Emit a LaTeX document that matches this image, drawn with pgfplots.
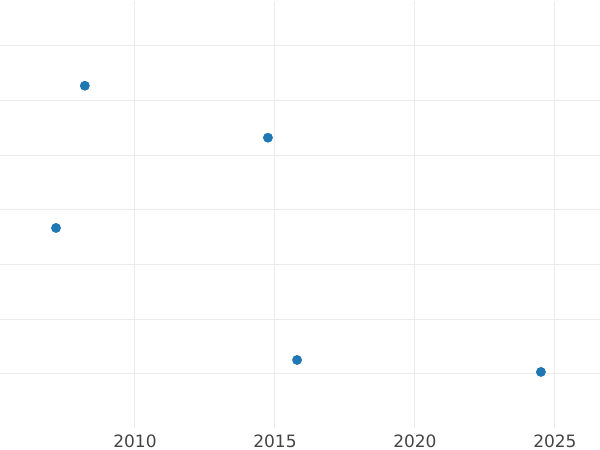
\documentclass[border=0pt]{standalone}
\usepackage{pgfplots}
\pgfplotsset{compat=1.18}
\usepackage{fontspec}
\setmainfont{DejaVu Sans}
\definecolor{pblue}{HTML}{1F77B4}
\definecolor{gridc}{HTML}{EBEBEB}
\definecolor{tickc}{HTML}{444444}
\begin{document}
\begin{tikzpicture}
\begin{axis}[
  scale only axis,
  width=300pt, height=213.5pt,
  xmin=2005.18, xmax=2026.61,
  ymin=-0.988, ymax=6.82,
  xtick={2010,2015,2020,2025},
  ytick={0,1,2,3,4,5,6},
  yticklabels={},
  grid=major,
  major grid style={draw=gridc, line width=0.5pt},
  axis line style={draw=none},
  major tick length=0pt,
  /pgf/number format/assume math mode=true,
  /pgf/number format/1000 sep={},
  xticklabel style={font=\fontsize{8.5}{10}\selectfont, text=tickc},
]
\addplot[only marks, mark=*, mark size=2.25pt, draw=pblue, fill=pblue] coordinates {
  (2008.21,5.27) (2014.75,4.32) (2007.18,2.67) (2015.79,0.256) (2024.5,0.037)
};
\end{axis}
\pgfresetboundingbox
\useasboundingbox (0,-11pt) rectangle (300pt,214pt);
\end{tikzpicture}
\end{document}
